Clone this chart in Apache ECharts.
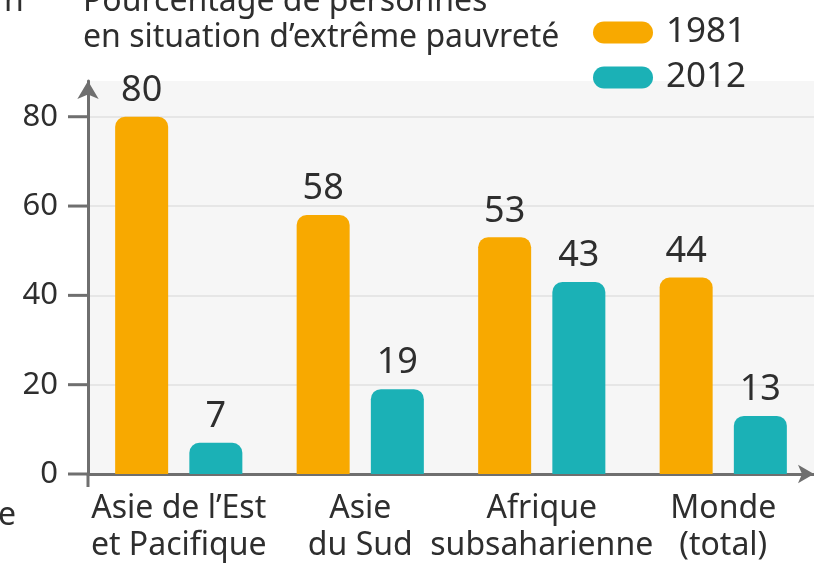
<!DOCTYPE html>
<html>
<head>
<meta charset="utf-8">
<script src="https://cdn.jsdelivr.net/npm/echarts@6/dist/echarts.min.js"></script>
<style>
html,body{margin:0;padding:0;background:#fff;}
#container{width:814px;height:564px;}
</style>
</head>
<body>
<div id="container"></div>
<script>
var regions = ['Asie de l\u2019Est\net Pacifique', 'Asie\ndu Sud', 'Afrique\nsubsaharienne', 'Monde\n(total)'];
var years = ['1981', '2012'];
var vals1981 = [80, 58, 53, 44];
var vals2012 = [7, 19, 43, 13];
var yTicks = [0, 20, 40, 60, 80];

var FONT = 'Noto Sans';
var TXT = '#2e2e2e';
var AXIS = '#6f6f6f';
var colors = ['#f8a900', '#1bb1b6'];
var GRID_LEFT = 88;

var myChart = echarts.init(document.getElementById('container'));

function serie(name, data, color){
	return {
		name: name,
		type: 'bar',
		data: data,
		barWidth: 53,
		barGap: '40%',
		itemStyle: { color: color, borderRadius: [10, 10, 0, 0] },
		label: {
			show: true,
			position: 'top',
			distance: 8,
			color: TXT,
			fontFamily: FONT,
			fontSize: 36
		}
	};
}

// bits of the neighbouring page text, cut by the crop
var pageBits = [
	{ type: 'text', left: 4, top: -14, style: { text: 'n', fontFamily: FONT, fontSize: 32, fill: TXT } },
	{ type: 'text', left: -2, top: 500, style: { text: 'e', fontFamily: FONT, fontSize: 32, fill: TXT } }
];

var option = {
	animation: false,
	textStyle: { fontFamily: FONT },
	title: {
		text: 'Pourcentage de personnes\nen situation d\u2019extr\u00eame pauvret\u00e9',
		left: 78,
		top: -21,
		textStyle: { color: TXT, fontFamily: FONT, fontSize: 32, fontWeight: 'normal', lineHeight: 36 }
	},
	graphic: pageBits,
	legend: {
		orient: 'vertical',
		left: 588,
		top: 10,
		itemWidth: 60,
		itemHeight: 22,
		itemGap: 10,
		icon: 'path://M11,0 H49 A11,11 0 0 1 49,22 H11 A11,11 0 0 1 11,0 Z',
		textStyle: { color: TXT, fontFamily: FONT, fontSize: 35, padding: [0, 0, 0, 8] },
		data: years
	},
	grid: {
		left: GRID_LEFT,
		right: -3,
		top: 81,
		bottom: 89,
		show: true,
		backgroundColor: '#f6f6f6',
		borderWidth: 0
	},
	xAxis: {
		type: 'category',
		data: regions,
		axisLine: {
			lineStyle: { color: AXIS, width: 3 },
			symbol: ['none', 'arrow'],
			symbolSize: [14, 16]
		},
		axisTick: { show: false },
		axisLabel: {
			interval: 0,
			color: TXT,
			fontFamily: FONT,
			fontSize: 32,
			lineHeight: 37,
			margin: 16
		}
	},
	yAxis: {
		type: 'value',
		min: 0,
		max: 88,
		interval: 20,
		axisLine: {
			show: true,
			lineStyle: { color: AXIS, width: 3 },
			symbol: ['none', 'arrow'],
			symbolSize: [16, 18]
		},
		axisTick: { show: false },
		axisLabel: {
			margin: 30,
			customValues: yTicks,
			color: TXT,
			fontFamily: FONT,
			fontSize: 31
		},
		splitLine: {
			show: true,
			showMaxLine: false,
			lineStyle: { color: '#e6e6e6', width: 2 }
		}
	},
	series: [
		serie(years[0], vals1981, colors[0]),
		serie(years[1], vals2012, colors[1])
	]
};
myChart.setOption(option);

// tick marks left of the y axis, placed with the axis scale
var extra = [];
for(var i=0;i<yTicks.length;i++){
	var y = myChart.convertToPixel({yAxisIndex: 0}, yTicks[i]);
	extra.push({ type: 'line', z: 10, shape: { x1: GRID_LEFT - 20, y1: y, x2: GRID_LEFT, y2: y }, style: { stroke: AXIS, lineWidth: 3 } });
}
var y0 = myChart.convertToPixel({yAxisIndex: 0}, 0);
extra.push({ type: 'line', z: 10, shape: { x1: GRID_LEFT, y1: y0, x2: GRID_LEFT, y2: y0 + 13 }, style: { stroke: AXIS, lineWidth: 3 } });
myChart.setOption({ graphic: pageBits.concat(extra) });
</script>
</body>
</html>
